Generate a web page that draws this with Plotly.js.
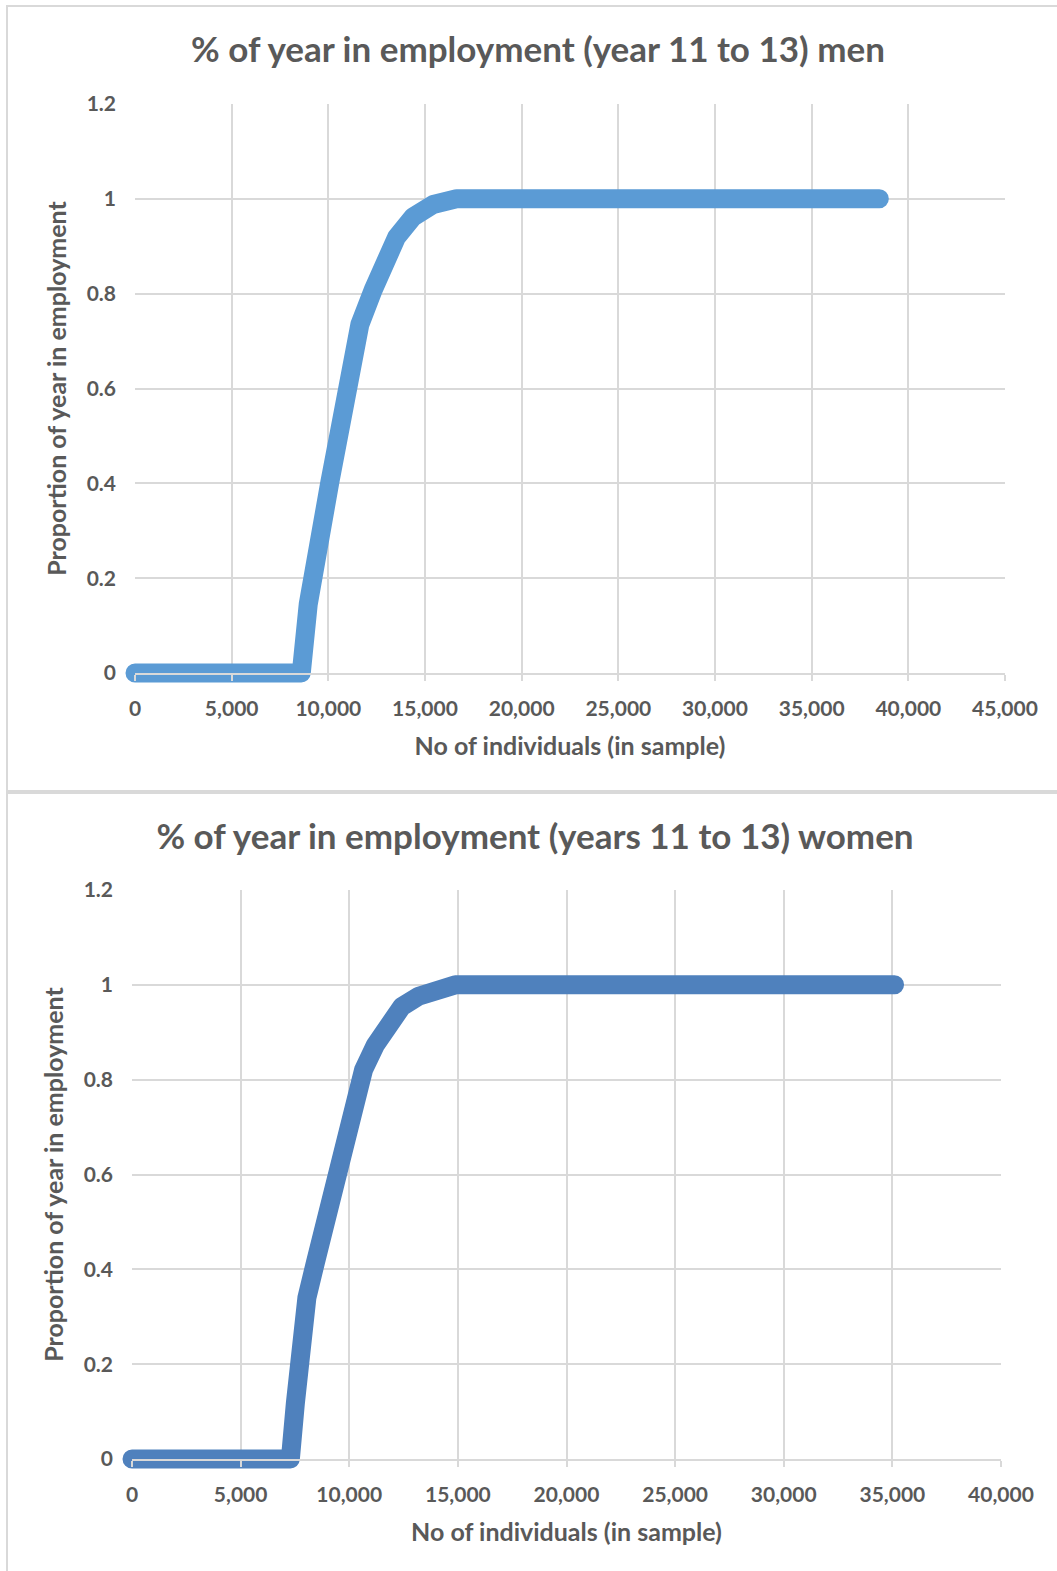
<!DOCTYPE html>
<html>
<head>
<meta charset="utf-8">
<script src="https://cdn.plot.ly/plotly-3.0.1.min.js"></script>
<style>
  html, body { margin: 0; padding: 0; background: #ffffff; width: 1057px; height: 1571px; overflow: hidden; }
  #men { position: absolute; left: 0; top: 0; width: 1057px; height: 792px; }
  #women { position: absolute; left: 0; top: 792px; width: 1057px; height: 779px; }
  .box { position: absolute; border: 2px solid #d9d9d9; border-right: none; pointer-events: none; }
  #box1 { left: 6px; top: 5px; width: 1060px; height: 785px; }
  #box2 { left: 6px; top: 790px; width: 1060px; height: 800px; border-bottom: none; }
</style>
</head>
<body>
<div id="men"></div>
<div id="women"></div>
<div class="box" id="box1"></div>
<div class="box" id="box2"></div>
<script>
// ---- data ----
const menTitle = "% of year in employment (year 11 to 13) men";
const womenTitle = "% of year in employment (years 11 to 13) women";
const xAxisTitle = "No of individuals (in sample)";
const yAxisTitle = "Proportion of year in employment";

const menX = [0, 8600, 8960, 9480, 10080, 10600, 11120, 11630, 12320, 12840, 13530, 14390, 15420, 16630, 38500];
const menY = [0, 0, 0.145, 0.293, 0.403, 0.514, 0.624, 0.735, 0.808, 0.867, 0.919, 0.962, 0.988, 1.0, 1.0];

const womenX = [0, 7290, 7520, 7750, 8050, 8440, 8820, 9200, 9510, 9890, 10280, 10660, 11200, 11810, 12420, 13190, 14110, 14880, 35100];
const womenY = [0, 0, 0.118, 0.229, 0.340, 0.414, 0.488, 0.562, 0.636, 0.710, 0.769, 0.821, 0.873, 0.917, 0.954, 0.976, 0.991, 1.0, 1.0];

const menXRange = [0, 45000];
const womenXRange = [0, 40000];
const yRange = [0, 1.2];

// ---- styling ----
const FONT = "Lato, 'Open Sans', sans-serif";
const TXT = "#595959";
const GRID = "#d9d9d9";

function makeLayout(title, titleY, titleX, xRange, margin, h) {
  return {
    width: 1057, height: h,
    paper_bgcolor: "rgba(0,0,0,0)", plot_bgcolor: "#ffffff",
    margin: margin,
    showlegend: false,
    font: { family: FONT, color: TXT, size: 21, weight: 700 },
    title: {
      text: title, xref: "container", yref: "container",
      x: titleX, y: titleY, xanchor: "center", yanchor: "middle",
      font: { family: FONT, size: 35, color: TXT, weight: 700 }
    },
    xaxis: {
      range: xRange, dtick: 5000, tick0: 0, tickformat: ",",
      showgrid: true, gridcolor: GRID, gridwidth: 2,
      showline: true, linecolor: GRID, linewidth: 2,
      ticks: "outside", ticklen: 6, tickcolor: GRID, tickwidth: 2,
      zeroline: false, fixedrange: true,
      ticklabelstandoff: 10,
      tickfont: { family: FONT, size: 21, color: TXT, weight: 700 },
      title: { text: xAxisTitle, standoff: 18, font: { family: FONT, size: 25, color: TXT, weight: 700 } }
    },
    yaxis: {
      range: yRange, dtick: 0.2, tick0: 0,
      showgrid: true, gridcolor: GRID, gridwidth: 2,
      showline: false, zeroline: false, ticks: "", fixedrange: true,
      ticklabelstandoff: 18,
      tickfont: { family: FONT, size: 21, color: TXT, weight: 700 },
      title: { text: yAxisTitle, standoff: 12, font: { family: FONT, size: 25, color: TXT, weight: 700 } }
    }
  };
}

function makeTrace(x, y, color) {
  return {
    type: "scatter", mode: "lines", x: x, y: y,
    line: { color: color, width: 19, shape: "linear" },
    cliponaxis: false, hoverinfo: "skip"
  };
}

function unclip(id) {
  document.querySelectorAll('#' + id + ' .scatterlayer path.js-line').forEach(p => {
    let el = p;
    while (el && el.tagName && el.tagName.toLowerCase() !== 'svg') {
      el.removeAttribute('clip-path');
      el = el.parentNode;
    }
    p.style.strokeLinecap = 'round';
    p.style.strokeLinejoin = 'round';
  });
}

Plotly.newPlot("men",
  [makeTrace(menX, menY, "#5B9BD5")],
  makeLayout(menTitle, 1 - 50 / 792, 538 / 1057, menXRange, { l: 135, r: 52, t: 104, b: 119 }, 792),
  { staticPlot: true, displayModeBar: false }).then(() => unclip("men"));

Plotly.newPlot("women",
  [makeTrace(womenX, womenY, "#4F81BD")],
  makeLayout(womenTitle, 1 - 45 / 779, 535 / 1057, womenXRange, { l: 132, r: 56, t: 98, b: 112 }, 779),
  { staticPlot: true, displayModeBar: false }).then(() => unclip("women"));
</script>
</body>
</html>
